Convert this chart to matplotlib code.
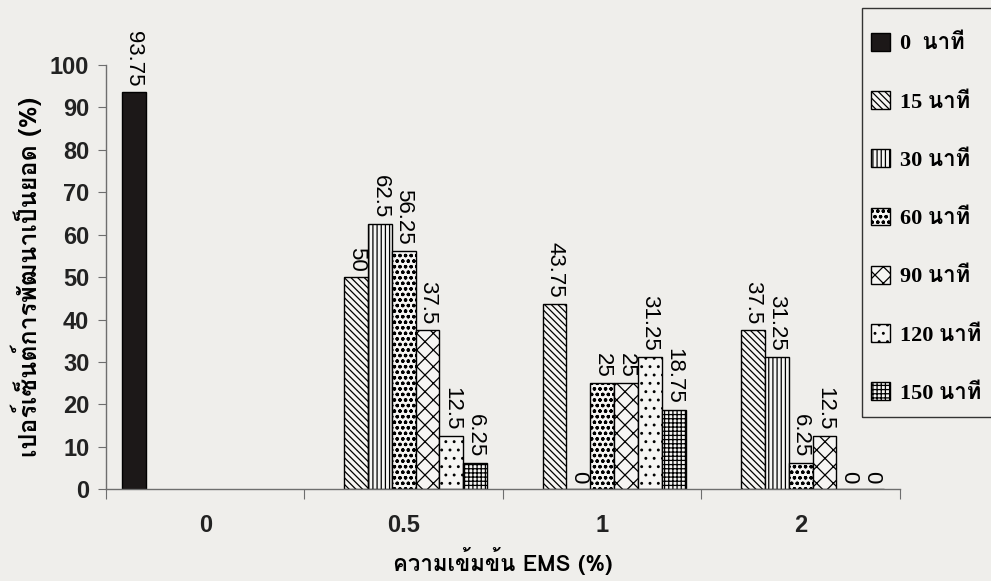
import numpy as np
import matplotlib
matplotlib.use('Agg')
import matplotlib.pyplot as plt
from matplotlib import font_manager
from matplotlib.patches import Rectangle

# ความเข้มข้น EMS (%) กับเวลาแช่ (นาที)
concentrations = ['0', '0.5', '1', '2']
series_names = ['0  นาที', '15 นาที', '30 นาที', '60 นาที', '90 นาที', '120 นาที', '150 นาที']
# nan = ไม่มีข้อมูล (ไม่วาดแท่ง ไม่มีตัวเลข)
min_0 = [93.75, np.nan, np.nan, np.nan]
min_15 = [np.nan, 50, 43.75, 37.5]
min_30 = [np.nan, 62.5, 0, 31.25]
min_60 = [np.nan, 56.25, 25, 6.25]
min_90 = [np.nan, 37.5, 25, 12.5]
min_120 = [np.nan, 12.5, 31.25, 0]
min_150 = [np.nan, 6.25, 18.75, 0]
all_series = [min_0, min_15, min_30, min_60, min_90, min_120, min_150]

hatches = [None, '\\\\\\\\\\', '||||', 'ooo', 'xx', '..', '++++']
paper = '#efeeeb'


def find_thai_font():
    # หาฟอนต์ในเครื่องที่มีตัวอักษรไทย
    try:
        from fontTools.ttLib import TTFont
    except ImportError:
        return None
    for f in font_manager.fontManager.ttflist:
        try:
            cmap = TTFont(f.fname, fontNumber=0, lazy=True).getBestCmap()
        except Exception:
            continue
        if cmap and 0x0E19 in cmap and 0x0E35 in cmap:
            return f.name
    return None


thai = find_thai_font()
sans_fam = ([thai] if thai else []) + ['Liberation Sans', 'DejaVu Sans']
serif_fam = ['Liberation Serif'] + ([thai] if thai else []) + ['DejaVu Sans']

plt.rcParams['font.family'] = ['Liberation Sans', 'DejaVu Sans']
plt.rcParams['hatch.linewidth'] = 0.9

fig = plt.figure(figsize=(9.91, 5.81), dpi=100, facecolor=paper)
ax = fig.add_axes([0.107, 0.158, 0.801, 0.730])
ax.set_facecolor(paper)

x = np.arange(len(concentrations))
width = 0.12
for i, vals in enumerate(all_series):
    vals = np.array(vals, dtype=float)
    pos = x + (i - 3) * width
    ok = ~np.isnan(vals)
    if i == 0:
        ax.bar(pos[ok], vals[ok], width, color='#1c1818', edgecolor='black',
               linewidth=1.0, label=series_names[i], zorder=2)
    else:
        ax.bar(pos[ok], vals[ok], width, color='#f6f5f3', edgecolor='black',
               hatch=hatches[i], linewidth=1.0, label=series_names[i], zorder=2)
    for px, v in zip(pos[ok], vals[ok]):
        ax.annotate(f'{v:g}', (px, v), xytext=(0, 4), textcoords='offset points',
                    rotation=270, ha='center', va='bottom', fontsize=16,
                    annotation_clip=False)

ax.set_xlim(-0.5, 3.5)
ax.set_ylim(0, 100)
ax.set_yticks(range(0, 101, 10))
ax.set_xticks([-0.5, 0.5, 1.5, 2.5, 3.5])
ax.set_xticklabels([])
ax.set_xticks(x, minor=True)
ax.set_xticklabels(concentrations, minor=True)
ax.tick_params(axis='x', which='major', length=7, color='#6e6e6e')
ax.tick_params(axis='x', which='minor', length=0, pad=18, labelsize=17)
ax.tick_params(axis='y', length=6, color='#6e6e6e', labelsize=17, pad=6)
for lab in ax.get_xticklabels(minor=True) + ax.get_yticklabels():
    lab.set_fontweight('bold')
    lab.set_color('#222222')

for s in ['top', 'right']:
    ax.spines[s].set_visible(False)
for s in ['left', 'bottom']:
    ax.spines[s].set_color('#6e6e6e')
    ax.spines[s].set_linewidth(1.0)

ax.set_xlabel('ความเข้มข้น EMS (%)', family=sans_fam, fontsize=16,
              fontweight='bold', labelpad=7)
ax.set_ylabel('เปอร์เซ็นต์การพัฒนาเป็นยอด (%)', family=sans_fam, fontsize=18,
              fontweight='bold', labelpad=6)

# legend ไม่มีกรอบ แล้ววาดกรอบสี่เหลี่ยมเองให้สูงกว่ารายการ
leg = fig.legend(loc='upper left', bbox_to_anchor=(0.870, 1 - 24 / 581),
                 borderaxespad=0, frameon=False,
                 prop=font_manager.FontProperties(family=serif_fam, weight='bold', size=16),
                 handlelength=0.85, handleheight=0.85, handletextpad=0.45,
                 labelspacing=1.65, borderpad=0.4)
fig.patches.append(Rectangle((862 / 991, 1 - 417 / 581), 0.2, 409 / 581,
                             transform=fig.transFigure, fill=False,
                             edgecolor='#333333', linewidth=1.0))

fig.savefig('out.png', dpi=100, facecolor=paper)
